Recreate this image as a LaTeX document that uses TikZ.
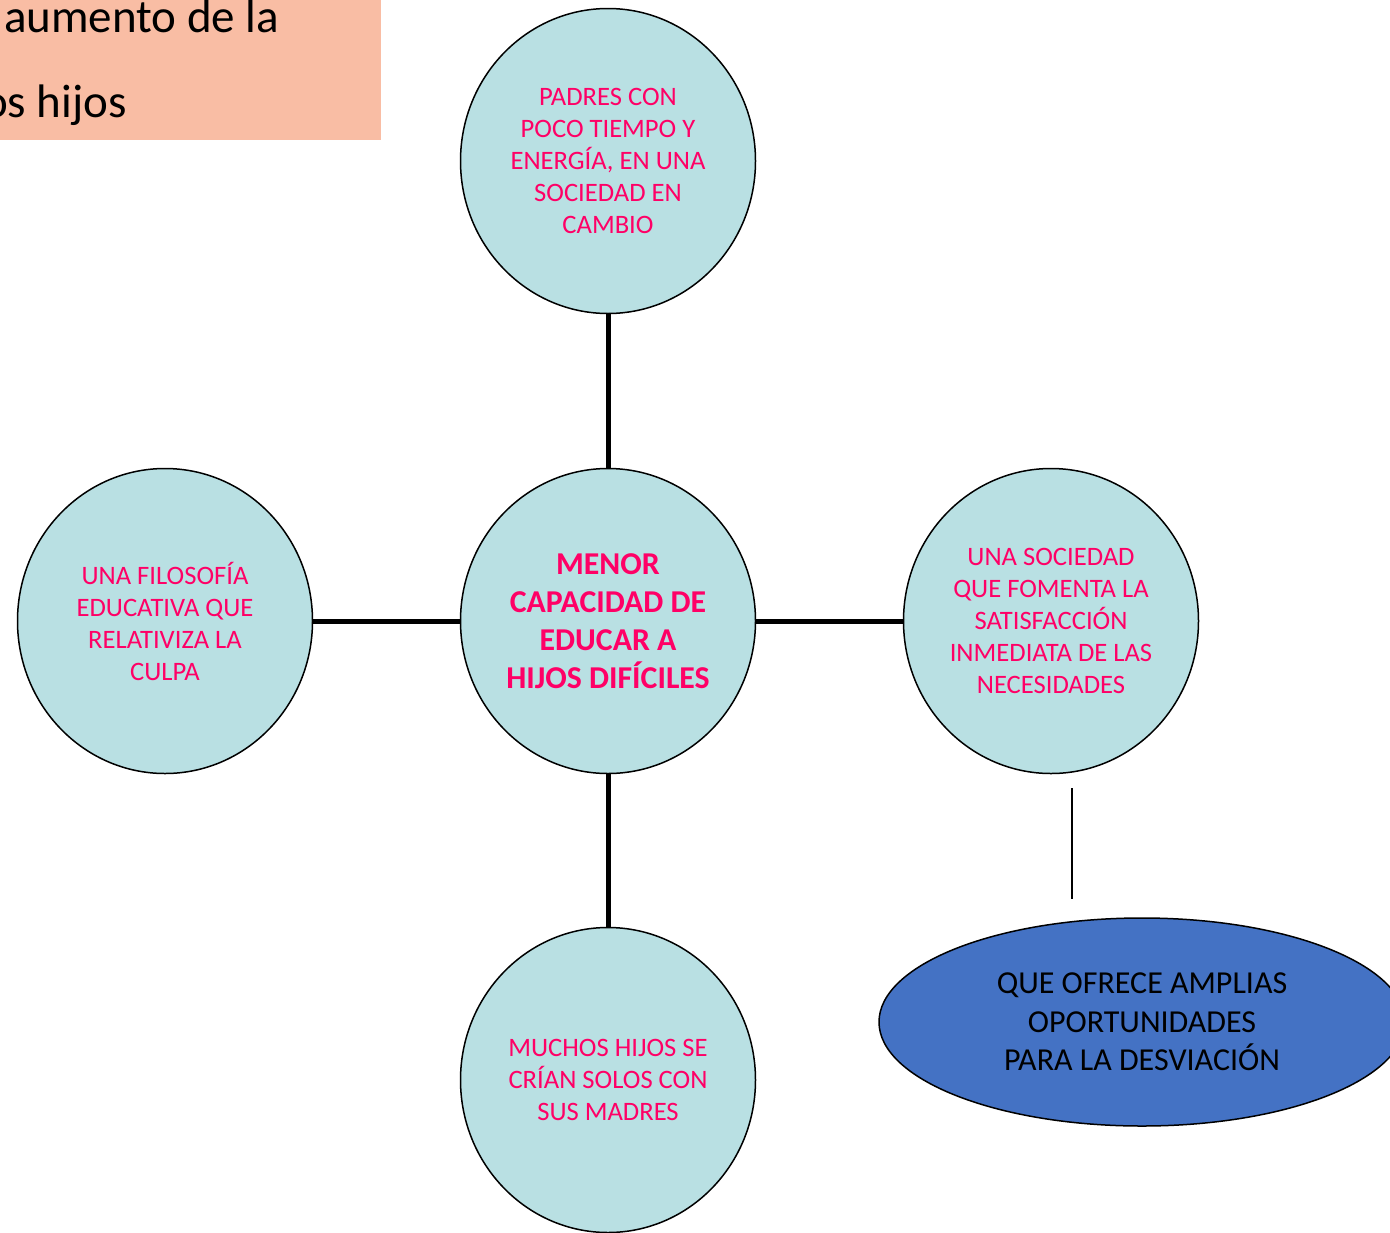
\documentclass[tikz,border=0pt]{standalone}
\usepackage{fontspec}
\setmainfont{Carlito}
\usetikzlibrary{shapes.geometric}
\definecolor{circfill}{HTML}{B9E0E3}
\definecolor{pinktxt}{HTML}{FF0066}
\definecolor{ellfill}{HTML}{4472C4}
\definecolor{boxfill}{HTML}{F9BDA4}
\begin{document}
\begin{tikzpicture}[x=1pt,y=-1pt,
  bubble/.style={ellipse, draw=black, line width=1.5pt, fill=circfill,
    minimum width=295pt, minimum height=305pt, inner sep=0pt, align=center,
    text=pinktxt, font=\fontsize{26.6}{32}\selectfont},
  link/.style={line width=5pt, draw=black},
  thinlink/.style={line width=2.5pt, draw=black},
  bigtext/.style={anchor=base west, inner sep=0pt, font=\fontsize{47}{56}\selectfont, text=black}]
\useasboundingbox (0,0) rectangle (1390,1232);
\clip (0,0) rectangle (1390,1232);

% top-left box
\node[fill=boxfill, minimum width=381pt, minimum height=140pt, anchor=north west, inner sep=0pt] (box) at (0,0) {};
\node[bigtext] (l1) at (4,32) {aumento de la};
\node[bigtext] (l2) at (-17,117) {os hijos};

% circles
\node[bubble] (top) at (608,161) {PADRES CON\\POCO TIEMPO Y\\ENERGÍA, EN UNA\\SOCIEDAD EN\\CAMBIO};
\node[bubble, font=\bfseries\fontsize{31.8}{38}\selectfont] (mid) at (608,621) {MENOR\\CAPACIDAD DE\\EDUCAR A\\HIJOS DIFÍCILES};
\node[bubble] (left) at (165,621) {UNA FILOSOFÍA\\EDUCATIVA QUE\\RELATIVIZA LA\\CULPA};
\node[bubble] (right) at (1051,621) {UNA SOCIEDAD\\QUE FOMENTA LA\\SATISFACCIÓN\\INMEDIATA DE LAS\\NECESIDADES};
\node[bubble] (bot) at (608,1080) {MUCHOS HIJOS SE\\CRÍAN SOLOS CON\\SUS MADRES};

% connectors
\draw[link] (top) -- (mid);
\draw[link] (left) -- (mid);
\draw[link] (mid) -- (right);
\draw[link] (mid) -- (bot);

\coordinate (t1) at (1072,788);
\coordinate (t2) at (1072,899);
\draw[thinlink] (t1) -- (t2);

% blue ellipse
\node[ellipse, draw=black, line width=1.5pt, fill=ellfill, minimum width=526pt, minimum height=208pt,
  inner sep=0pt, align=center, font=\fontsize{32}{38.5}\selectfont, text=black] (ell) at (1142,1022)
  {QUE OFRECE AMPLIAS\\OPORTUNIDADES\\PARA LA DESVIACIÓN};
\end{tikzpicture}
\end{document}
